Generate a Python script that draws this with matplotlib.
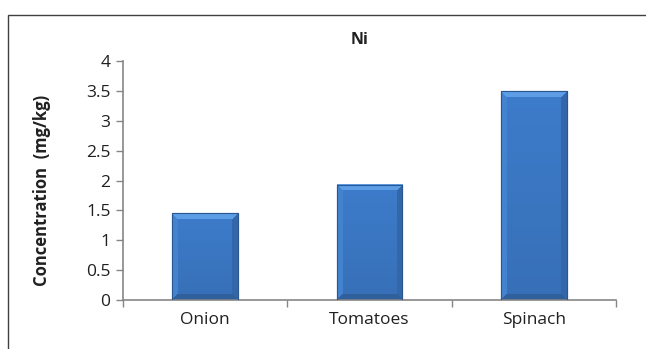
import numpy as np
import matplotlib
matplotlib.use("Agg")
import matplotlib.pyplot as plt
from matplotlib.patches import Rectangle

# dados
categorias = ["Onion", "Tomatoes", "Spinach"]
valores = [1.45, 1.93, 3.49]
yticks = [0, 0.5, 1, 1.5, 2, 2.5, 3, 3.5, 4]

plt.rcParams['font.family'] = ['Open Sans', 'DejaVu Sans']


def hex_rgb(h):
    h = h.lstrip("#")
    return np.array([int(h[i:i + 2], 16) / 255 for i in (0, 2, 4)])


# imagem com efeito de chanfro, do tamanho da barra em pixels
def chanfro(w, h, b=6):
    meio = hex_rgb("#3d7ccb")
    img = np.zeros((h, w, 3))
    ys = np.arange(h)[:, None]
    xs = np.arange(w)[None, :]
    # escurece um pouco para baixo
    frac = ys / max(h - 1, 1)
    img[:] = meio * (1.0 - 0.10 * frac)[..., None]
    topo = (ys < b) & (xs >= ys) & (xs < w - ys)
    base = (ys >= h - b) & (xs >= h - 1 - ys) & (xs < w - (h - 1 - ys))
    esq = (xs < b) & ~topo & ~base
    dir_ = (xs >= w - b) & ~topo & ~base
    img[topo] = hex_rgb("#5c9de6")
    img[esq] = hex_rgb("#4282cf")
    img[dir_] = hex_rgb("#3367aa")
    img[base] = hex_rgb("#30609c")
    return img


fig = plt.figure(figsize=(6.46, 3.49), dpi=100)
fig.patch.set_facecolor("white")

# moldura externa (cortada à direita e embaixo)
fig.add_artist(Rectangle((8 / 646, -0.1), 1.2, 1 - 15 / 349 + 0.1,
                         transform=fig.transFigure, fill=False,
                         edgecolor="#404040", linewidth=1.0))

ax = fig.add_axes([123 / 646, 49 / 349, 493 / 646, 239 / 349])
x = np.arange(len(categorias))
barras = ax.bar(x, valores, width=0.4, color="#3b78c6", edgecolor="#24508a",
                linewidth=0.8, zorder=2)

ax.set_xlim(-0.5, len(categorias) - 0.5)
ax.set_ylim(0, 4)

# preenche cada barra com o gradiente
fig.canvas.draw()
for p in barras.patches:
    x0, y0 = p.get_x(), p.get_y()
    x1, y1 = x0 + p.get_width(), y0 + p.get_height()
    (px0, py0), (px1, py1) = ax.transData.transform([(x0, y0), (x1, y1)])
    w = max(int(round(px1 - px0)), 2)
    h = max(int(round(py1 - py0)), 2)
    ax.imshow(chanfro(w, h), extent=(x0, x1, y0, y1), aspect="auto",
              interpolation="nearest", zorder=2.5)
    ax.add_patch(Rectangle((x0, y0), p.get_width(), p.get_height(),
                           fill=False, edgecolor="#2a5790", linewidth=0.8,
                           zorder=3))
ax.set_xlim(-0.5, len(categorias) - 0.5)
ax.set_ylim(0, 4)

ax.set_yticks(yticks)
ax.set_yticklabels([f"{v:g}" for v in yticks], fontsize=12.5, color="#202020")

# ticks nas fronteiras das categorias, rótulos no centro
ax.set_xticks(np.arange(-0.5, len(categorias), 1.0))
ax.set_xticklabels([])
ax.set_xticks(x, minor=True)
ax.set_xticklabels(categorias, minor=True, fontsize=12.5, color="#202020")
ax.tick_params(axis="x", which="minor", length=0, pad=9)
ax.tick_params(axis="x", which="major", length=5, color="#868686", width=1)
ax.tick_params(axis="y", length=5, color="#868686", width=1, pad=4)

for lado in ["top", "right"]:
    ax.spines[lado].set_visible(False)
for lado in ["left", "bottom"]:
    ax.spines[lado].set_color("#868686")
    ax.spines[lado].set_linewidth(1.2)

fig.text(360 / 646, 1 - 40 / 349, "Ni", ha="center", va="center",
         fontsize=11.5, fontweight="bold", color="#202020")
fig.text(42 / 646, 1 - 190 / 349, "Concentration  (mg/kg)", rotation=90,
         ha="center", va="center", fontsize=12, fontweight="bold", color="#202020")

fig.savefig("out.png", dpi=100)
